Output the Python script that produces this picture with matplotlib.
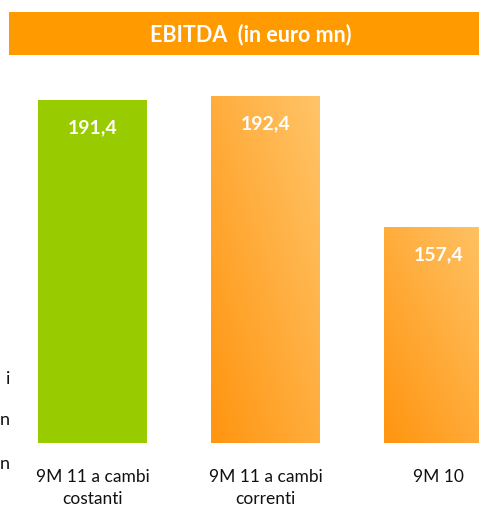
import numpy as np
import matplotlib
matplotlib.use('Agg')
import matplotlib.pyplot as plt
from matplotlib.patches import Rectangle
from matplotlib.colors import LinearSegmentedColormap

categories = ['9M 11 a cambi\ncostanti', '9M 11 a cambi\ncorrenti', '9M 10']
values = [191.4, 192.4, 157.4]
value_labels = ['191,4', '192,4', '157,4']
title = 'EBITDA  (in euro mn)'
cut_texts = ['i', 'n', 'n']

plt.rcParams['font.family'] = ['Lato', 'DejaVu Sans']

W, H = 479, 508
fig = plt.figure(figsize=(W / 100, H / 100), dpi=100)

# orange title banner
fig.patches.append(Rectangle((9 / W, 1 - 55 / H), 1 - 9 / W, 43 / H,
                             transform=fig.transFigure, facecolor='#FF9A00',
                             edgecolor='none', zorder=0))
fig.text(251 / W, 1 - 35 / H, title, color='white', fontsize=15.5,
         fontweight='bold', ha='center', va='center')

ax = fig.add_axes([6 / W, 65 / H, 519 / W, 375.5 / H])
ax.set_xlim(-0.5, 2.5)
ax.set_ylim(100, 200)
for s in ax.spines.values():
    s.set_visible(False)
ax.set_yticks([])

x = np.arange(len(categories))
bw = 0.63
bars = ax.bar(x, np.array(values) - 100, bottom=100, width=bw,
              color=['#99CC00', 'none', 'none'], edgecolor='none')

# gradient fill on the orange bars
cmap = LinearSegmentedColormap.from_list('org', ['#FF9510', '#FFC468'])
gx, gy = np.meshgrid(np.linspace(0, 1, 100), np.linspace(0, 1, 100))
grad = (gx + gy) / 2
for i in (1, 2):
    b = bars[i]
    im = ax.imshow(grad, cmap=cmap, origin='lower', aspect='auto',
                   extent=[x[i] - bw / 2, x[i] + bw / 2, 100, values[i]],
                   vmin=0, vmax=1, zorder=2)
    im.set_clip_path(b)
ax.set_xlim(-0.5, 2.5)
ax.set_ylim(100, 200)

for i, v in enumerate(values):
    ax.annotate(value_labels[i], (x[i], v), xytext=(0, -20),
                textcoords='offset points', ha='center', va='center',
                color='white', fontsize=14, fontweight='bold', zorder=3)

ax.set_xticks(x)
ax.set_xticklabels(categories, fontsize=12.5, color='#111111', linespacing=1.4)
ax.tick_params(axis='x', length=0, pad=19)

# cut-off text at the left edge
for t, yp in zip(cut_texts, [379, 420, 464]):
    fig.text(10 / W, 1 - yp / H, t, fontsize=13, color='#111111',
             ha='right', va='center')

fig.savefig('out.png', dpi=100)
